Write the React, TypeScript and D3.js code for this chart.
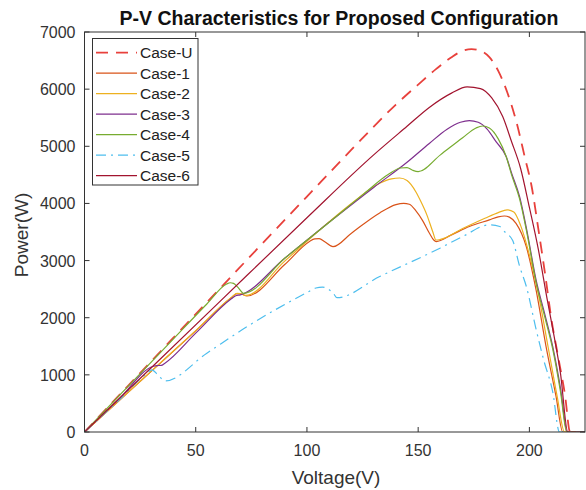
import React from 'react';
import * as d3 from 'd3';

// P-V curves: [voltage (V), power (W)]
const caseU = [[0, 0], [20, 826], [40, 1650], [60, 2475], [80, 3300], [100, 4120], [120, 4940], [140, 5730], [150, 6080], [158, 6350], [165, 6560], [170, 6670], [174, 6700], [178, 6670], [182, 6560], [186, 6320], [190, 5950], [194, 5450], [198, 4800], [201, 4300], [204, 3560], [207, 2780], [210, 1950], [213, 1300], [216, 650], [218.3, 0], [225, 0]];
const case1 = [[0, 0], [15, 530], [30, 1060], [50, 1770], [66, 2350], [68.5, 2420], [70.5, 2415], [73, 2380], [90, 2930], [101, 3330], [103.5, 3380], [105.5, 3385], [108, 3330], [111.7, 3243], [120, 3480], [132.7, 3833], [140, 3980], [143.5, 4002], [146, 3985], [149, 3870], [152, 3700], [155, 3483], [157, 3360], [158.1, 3333], [165, 3450], [173, 3596], [182, 3713], [186, 3765], [188.8, 3780], [191, 3760], [194, 3650], [198.6, 3245], [203, 2487], [207.5, 1494], [212, 618], [215, 0], [225, 0]];
const case2 = [[0, 0], [15, 532], [30, 1065], [50, 1775], [66, 2355], [68.5, 2425], [70, 2420], [72.5, 2390], [90, 2990], [110, 3680], [120, 4000], [132.7, 4352], [138, 4430], [141.7, 4445], [145, 4400], [149, 4200], [151, 4050], [153.9, 3800], [156.6, 3500], [158, 3360], [160, 3370], [170, 3560], [180, 3740], [186, 3840], [190, 3888], [193, 3850], [196, 3620], [200, 3100], [204, 2420], [208.5, 1470], [212.5, 620], [215.8, 0], [225, 0]];
const case3 = [[0, 0], [15, 557], [31, 1150], [32.5, 1162], [34.5, 1165], [36, 1200], [50, 1730], [66, 2330], [68, 2385], [70, 2400], [90, 3040], [110.4, 3683], [130, 4280], [145, 4720], [155, 5050], [163, 5300], [169, 5420], [173, 5448], [177, 5420], [181, 5300], [185, 5080], [189.6, 4818], [192, 4530], [195.6, 4118], [199, 3500], [203, 2660], [207, 2050], [210.5, 1493], [214, 760], [217, 0], [225, 0]];
const case4 = [[0, 0], [20, 815], [40, 1630], [55, 2240], [63.9, 2590], [65.5, 2612], [67, 2600], [69, 2530], [71.5, 2427], [90, 3040], [110.3, 3680], [125, 4150], [137, 4520], [142, 4620], [145, 4626], [147.5, 4580], [150, 4556], [160, 4850], [170, 5150], [176, 5320], [179, 5355], [182, 5320], [186, 5130], [189.6, 4818], [192, 4500], [195.6, 4080], [199, 3460], [203, 2620], [207, 2000], [210.5, 1450], [214, 700], [216.8, 0], [225, 0]];
const case5 = [[0, 0], [15, 540], [28.5, 1040], [30.2, 1086], [33, 1000], [36.1, 893], [55, 1380], [74.3, 1874], [100, 2440], [104, 2520], [107, 2535], [110, 2490], [112, 2420], [113.5, 2350], [132.7, 2720], [160, 3221], [170, 3420], [182, 3625], [186.7, 3596], [189, 3500], [192.5, 3350], [195.6, 2900], [198.6, 2550], [203, 1800], [206.5, 1250], [210.5, 700], [213.5, 0], [225, 0]];
const case6 = [[0, 0], [30, 1125], [60, 2250], [100, 3750], [130, 4850], [145, 5350], [155, 5680], [165, 5930], [172, 6040], [178, 6010], [183, 5850], [188, 5520], [192, 5080], [196, 4620], [200, 3930], [204, 3200], [208, 2320], [211, 1700], [214, 1020], [217.3, 0], [225, 0]];

const caseNames = ['Case-U', 'Case-1', 'Case-2', 'Case-3', 'Case-4', 'Case-5', 'Case-6'];
const caseData = [caseU, case1, case2, case3, case4, case5, case6];
const caseColors = ['#e8413c', '#D95319', '#EDB120', '#7E2F8E', '#77AC30', '#4DBEEE', '#A2142F'];
const caseDash = ['12,8', null, null, null, null, '10,5,2,5', null];

const xTicks = [0, 50, 100, 150, 200];
const yTicks = [0, 1000, 2000, 3000, 4000, 5000, 6000, 7000];

const W = 586;
const H = 490;
const left = 84.5, right = 585, top = 32, bottom = 432;
const axisColor = '#333';
const font = '"Liberation Sans", Arial, sans-serif';

const App = () => {
  const x = d3.scaleLinear().domain([0, 225]).range([left, right]);
  const y = d3.scaleLinear().domain([0, 7000]).range([bottom, top]);

  const line = d3.line<number[]>()
    .x((d) => x(d[0]))
    .y((d) => y(d[1]))
    .curve(d3.curveMonotoneX);

  return (
    <div style={{ position: 'absolute', left: 0, top: 0 }}>
      <svg width={W} height={H} style={{ display: 'block', background: '#fff' }}>
        <defs>
          <clipPath id="plotClip">
            <rect x={left} y={top} width={right - left} height={bottom - top} />
          </clipPath>
        </defs>

        {/* curves */}
        <g clipPath="url(#plotClip)" fill="none">
          {caseData.map((d, i) => (
            <path
              key={caseNames[i]}
              d={line(d) || ''}
              stroke={caseColors[i]}
              strokeWidth={i === 0 ? 1.8 : 1.2}
              strokeDasharray={caseDash[i] || undefined}
            />
          ))}
        </g>

        {/* box + ticks */}
        <rect x={left} y={top} width={right - left} height={bottom - top} fill="none" stroke={axisColor} strokeWidth={1} />
        {xTicks.map((t) => (
          <g key={'x' + t}>
            <line x1={x(t)} x2={x(t)} y1={bottom} y2={bottom - 5} stroke={axisColor} />
            <line x1={x(t)} x2={x(t)} y1={top} y2={top + 5} stroke={axisColor} />
            <text x={x(t)} y={bottom + 24} textAnchor="middle" fontFamily={font} fontSize={16} fill="#333">{t}</text>
          </g>
        ))}
        {yTicks.map((t) => (
          <g key={'y' + t}>
            <line x1={left} x2={left + 5} y1={y(t)} y2={y(t)} stroke={axisColor} />
            <line x1={right} x2={right - 5} y1={y(t)} y2={y(t)} stroke={axisColor} />
            <text x={left - 9} y={y(t) + 6} textAnchor="end" fontFamily={font} fontSize={16} fill="#333">{t}</text>
          </g>
        ))}

        {/* labels */}
        <text x={339} y={25} textAnchor="middle" fontFamily={font} fontSize={19.5} fontWeight="bold" fill="#111">
          P-V Characteristics for Proposed Configuration
        </text>
        <text x={336} y={484} textAnchor="middle" fontFamily={font} fontSize={19} fill="#333">Voltage(V)</text>
        <text transform="translate(28,235) rotate(-90)" textAnchor="middle" fontFamily={font} fontSize={19} fill="#333">Power(W)</text>

        {/* legend */}
        <g>
          <rect x={92.5} y={38.5} width={105.5} height={146.5} fill="#fff" stroke={axisColor} strokeWidth={1} />
          {caseNames.map((name, i) => {
            const ly = 52.7 + i * 20.5;
            return (
              <g key={name}>
                <line x1={96} x2={137} y1={ly} y2={ly} stroke={caseColors[i]} strokeWidth={i === 0 ? 1.8 : 1.2} strokeDasharray={caseDash[i] || undefined} />
                <text x={140} y={ly + 5.5} fontFamily={font} fontSize={15.5} fill="#222">{name}</text>
              </g>
            );
          })}
        </g>
      </svg>
    </div>
  );
};

export default App;
